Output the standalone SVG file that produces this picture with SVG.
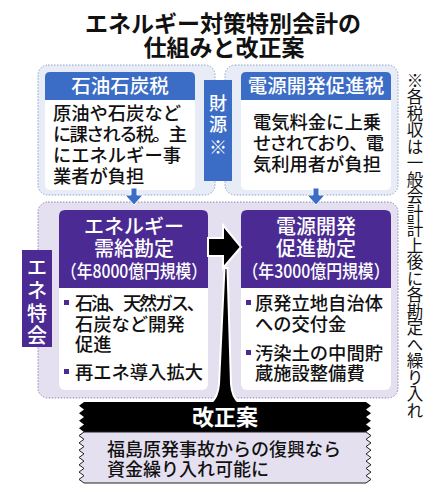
<svg xmlns="http://www.w3.org/2000/svg" width="438" height="503" viewBox="0 0 438 503">
<style>
text{font-family:"Noto Sans CJK JP","Noto Sans CJK SC",sans-serif;}
.title{font-size:23px;font-weight:700;fill:#111;text-anchor:middle;}
.hd{font-size:19.5px;font-weight:500;fill:#fff;text-anchor:middle;}
.body{font-size:18.3px;font-weight:500;fill:#111;}
.vw{font-size:18px;font-weight:500;fill:#fff;text-anchor:middle;}
.cont-b{fill:#e7ecf7;stroke:#8ea2cb;stroke-width:1;stroke-dasharray:1.5 1.5;}
.cont-p{fill:#e5e0f0;stroke:#8f88b3;stroke-width:1;stroke-dasharray:1.5 1.5;}
.card{fill:#fff;}
.blue{fill:#3b6cc6;}
.purple{fill:#4b2b93;}
.bul{fill:#4b2b93;}
</style>
<rect width="438" height="503" fill="#fff"/>
<g id="title">
<text class="title"><tspan x="223" y="32">エネルギー対策特別会計の</tspan><tspan x="224" y="56">仕組みと改正案</tspan></text>
</g>
<g id="containers">
<rect class="cont-b" x="38" y="65" width="177" height="130" rx="10"/>
<rect class="cont-b" x="225" y="65" width="173" height="130" rx="10"/>
<rect class="cont-p" x="38" y="202" width="360" height="196" rx="10"/>
</g>
<g id="sekiyu">
<rect class="card" x="45" y="72" width="150" height="118" rx="5"/>
<path class="blue" d="M45,100 V77 Q45,72 50,72 H190 Q195,72 195,77 V100 Z"/>
<text class="hd" x="120" y="93">石油石炭税</text>
<text class="body"><tspan x="53" y="120">原油や石炭など</tspan><tspan x="53" y="141" textLength="134" lengthAdjust="spacing">に課される税。主</tspan><tspan x="53" y="162">にエネルギー事</tspan><tspan x="53" y="183">業者が負担</tspan></text>
</g>
<g id="dengen-zei">
<rect class="card" x="241" y="72" width="150" height="118" rx="5"/>
<path class="blue" d="M241,100 V77 Q241,72 246,72 H386 Q391,72 391,77 V100 Z"/>
<text class="hd" x="316" y="93">電源開発促進税</text>
<text class="body"><tspan x="253" y="129">電気料金に上乗</tspan><tspan x="253" y="150" textLength="131" lengthAdjust="spacing">せされており、電</tspan><tspan x="253" y="171">気利用者が負担</tspan></text>
</g>
<g id="zaigen">
<rect class="blue" x="204" y="80" width="28" height="101"/>
<text class="vw"><tspan x="218" y="110">財</tspan><tspan x="218" y="131">源</tspan><tspan x="218" y="154">※</tspan></text>
</g>
<g id="enetokkai">
<rect class="purple" x="22" y="250" width="30" height="97"/>
<text class="vw" style="font-size:20px"><tspan x="37" y="275">エ</tspan><tspan x="37" y="298">ネ</tspan><tspan x="37" y="321">特</tspan><tspan x="37" y="343">会</tspan></text>
</g>
<g id="jukyu">
<rect class="card" x="59" y="210" width="149" height="180" rx="6"/>
<path class="purple" d="M59,288 V216 Q59,210 65,210 H202 Q208,210 208,216 V288 Z"/>
<text class="hd" style="font-size:20px"><tspan x="134" y="234">エネルギー</tspan><tspan x="134" y="256">需給勘定</tspan></text>
<text class="hd" style="font-size:18px" x="134" y="278" textLength="146" lengthAdjust="spacingAndGlyphs">（年8000億円規模）</text>
<rect class="bul" x="64" y="300" width="5" height="5"/>
<rect class="bul" x="64" y="369" width="5" height="5"/>
<text class="body"><tspan x="75" y="310" textLength="130" lengthAdjust="spacing">石油、天然ガス、</tspan><tspan x="75" y="331">石炭など開発</tspan><tspan x="75" y="351">促進</tspan><tspan x="75" y="379">再エネ導入拡大</tspan></text>
</g>
<g id="dengen-kanjo">
<rect class="card" x="241" y="210" width="150" height="180" rx="6"/>
<path class="purple" d="M241,288 V216 Q241,210 247,210 H385 Q391,210 391,216 V288 Z"/>
<text class="hd" style="font-size:20px"><tspan x="316" y="234">電源開発</tspan><tspan x="316" y="256">促進勘定</tspan></text>
<text class="hd" style="font-size:18px" x="316" y="278" textLength="147" lengthAdjust="spacingAndGlyphs">（年3000億円規模）</text>
<rect class="bul" x="246" y="300" width="5" height="5"/>
<rect class="bul" x="246" y="350" width="5" height="5"/>
<text class="body"><tspan x="255" y="310">原発立地自治体</tspan><tspan x="255" y="331">への交付金</tspan><tspan x="255" y="360">汚染土の中間貯</tspan><tspan x="255" y="380">蔵施設整備費</tspan></text>
</g>
<g id="connectors">
<path class="blue" stroke="#fff" stroke-width="1" d="M131,188 H137 V195 H143 L134,205 L125,195 H131 Z"/>
<path class="blue" stroke="#fff" stroke-width="1" d="M313,188 H319 V195 H325 L316,205 L307,195 H313 Z"/>
<path fill="#000" stroke="#fff" stroke-width="2" d="M208,238 H223 V225 L241,247 L223,268 V256 H208 Z"/>
<path fill="#000" stroke="#fff" stroke-width="2" d="M224.5,268 L227.5,268 L231,384 Q232,397 239,403 L211,403 Q218,397 219,384 Z"/>
</g>
<g id="kaisei">
<path fill="#000" d="M84,402 H366 L371,405.75 L366,409.5 L371,413.25 L366,417 L371,420.75 L366,424.5 L371,428.25 L366,432 H84 L79,428.25 L84,424.5 L79,420.75 L84,417 L79,413.25 L84,409.5 L79,405.75 Z"/>
<text x="225" y="425" style="font-size:22px;font-weight:700;fill:#fff;text-anchor:middle">改正案</text>
<path fill="#e5e0f0" stroke="#222" stroke-width="1" d="M84,432 H366 L371,435.6 L366,439.3 L371,442.9 L366,446.6 L371,450.2 L366,453.9 L371,457.5 L366,461.1 L371,464.8 L366,468.4 L371,472.1 L366,475.7 L371,479.4 L366,483 H84 L79,479.4 L84,475.7 L79,472.1 L84,468.4 L79,464.8 L84,461.1 L79,457.5 L84,453.9 L79,450.2 L84,446.6 L79,442.9 L84,439.3 L79,435.6 Z"/>
<text style="font-size:18px;font-weight:500;fill:#111"><tspan x="107" y="456">福島原発事故からの復興なら</tspan><tspan x="107" y="476">資金繰り入れ可能に</tspan></text>
</g>
<g id="note">
<text x="415" y="72" style="font-size:16.5px;font-weight:400;fill:#111;writing-mode:vertical-rl;text-orientation:upright">※各税収は一般会計計上後に各勘定へ繰り入れ</text>
</g>
</svg>
